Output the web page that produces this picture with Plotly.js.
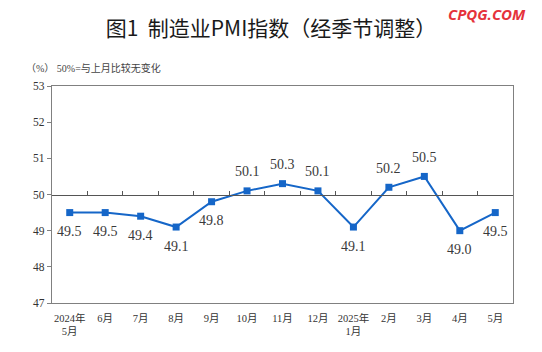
<!DOCTYPE html>
<html>
<head>
<meta charset="utf-8">
<script src="https://cdn.plot.ly/plotly-3.0.1.min.js"></script>
<style>html,body{margin:0;padding:0;background:#fff;}#chart{width:542px;height:352px;}</style>
</head>
<body>
<div id="chart"></div>
<script>
var months = ["2024年<br>5月","6月","7月","8月","9月","10月","11月","12月","2025年<br>1月","2月","3月","4月","5月"];
var pmi = [49.5, 49.5, 49.4, 49.1, 49.8, 50.1, 50.3, 50.1, 49.1, 50.2, 50.5, 49.0, 49.5];
var labels = pmi.map(function(v){ return v.toFixed(1); });
var yTicks = [47, 48, 49, 50, 51, 52, 53];
var baseline = 50;

var serif = "'Liberation Serif','Times New Roman','Noto Sans CJK SC',serif";

var trace = {
  x: months, y: pmi, type: "scatter", mode: "lines+markers",
  line: {color: "#1566C8", width: 2},
  marker: {symbol: "square", size: 7, color: "#1566C8"},
  hoverinfo: "skip", cliponaxis: false
};
var dummy = {x: months, y: pmi.map(function(){return baseline;}), xaxis: "x2", type: "scatter", mode: "none", hoverinfo: "skip", showlegend: false};

var annotations = pmi.map(function(v, i){
  return {x: months[i], y: v, xref: "x", yref: "y", text: labels[i], showarrow: false,
    xanchor: "center", yanchor: "middle", yshift: v > baseline ? 19 : -19,
    font: {family: serif, size: 14, color: "#3a3a3a"}};
});
annotations.push(
  {text: "（%） 50%=与上月比较无变化", xref: "paper", yref: "paper", x: -0.06, y: 1.083,
   xanchor: "left", yanchor: "middle", showarrow: false,
   font: {family: "'Liberation Serif','Noto Sans CJK SC',serif", size: 10, color: "#444444"}},
  {text: "<b><i>CPQG.COM</i></b>", xref: "paper", yref: "paper", x: 0.944, y: 1.332,
   xanchor: "center", yanchor: "middle", showarrow: false,
   font: {family: "'Open Sans','DejaVu Sans',sans-serif", size: 15, color: "#E5323B"}}
);

var layout = {
  width: 542, height: 352,
  margin: {l: 52, r: 29, t: 86, b: 49},
  paper_bgcolor: "#ffffff", plot_bgcolor: "#ffffff",
  showlegend: false,
  title: {
    text: "图1  制造业PMI指数（经季节调整）",
    font: {family: "'Noto Sans CJK SC','Liberation Serif',serif", size: 21, color: "#1a1a1a"},
    x: 0.5, xref: "container", y: 0.92, yref: "container", yanchor: "middle", xanchor: "center"
  },
  xaxis: {
    type: "category", categoryarray: months, range: [-0.5, 12.5],
    showline: true, linecolor: "#808080", linewidth: 1.2, mirror: true,
    showgrid: false, zeroline: false, ticks: "", ticklabelstandoff: 5,
    tickfont: {family: serif, size: 10.5, color: "#333333"},
    fixedrange: true
  },
  xaxis2: {
    type: "category", categoryarray: months, range: [-0.5, 12.5],
    overlaying: "x", anchor: "free", position: 0.5, side: "bottom",
    showline: true, linecolor: "#555555", linewidth: 1,
    ticks: "inside", ticklen: 4, tickcolor: "#555555", tickson: "boundaries",
    showticklabels: false, showgrid: false, zeroline: false
  },
  yaxis: {
    range: [47, 53], tickvals: yTicks, ticktext: yTicks.map(String),
    showline: true, linecolor: "#808080", linewidth: 1.2, mirror: true,
    ticks: "outside", ticklen: 4, tickcolor: "#808080",
    showgrid: false, zeroline: false,
    tickfont: {family: serif, size: 11.5, color: "#333333"},
    fixedrange: true
  },
  annotations: annotations
};
Plotly.newPlot("chart", [trace, dummy], layout, {displayModeBar: false, staticPlot: true});
</script>
</body>
</html>
